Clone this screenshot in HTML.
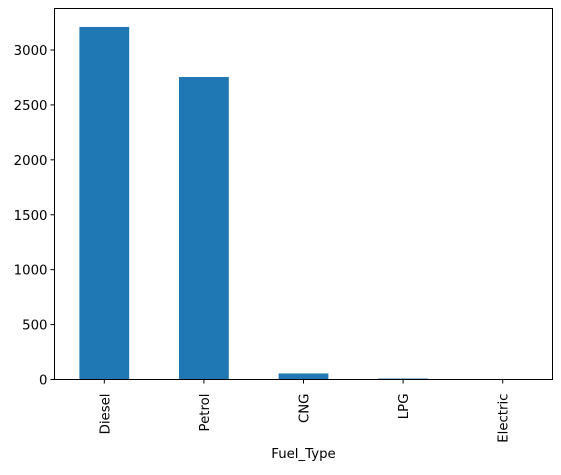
<!DOCTYPE html>
<html><head><meta charset="utf-8"><style>
body{margin:0;background:#fff}
text{font-family:"DejaVu Sans","Liberation Sans",sans-serif;font-size:13.3px;fill:#000}
</style></head><body>
<svg id="chart" width="561" height="470" xmlns="http://www.w3.org/2000/svg"></svg>
<script>
const categories = ["Diesel","Petrol","CNG","LPG","Electric"];
const counts = [3210, 2754, 55, 9, 2];
const yTicks = [0,500,1000,1500,2000,2500,3000];
const xLabelText = "Fuel_Type";

const L=54.5,R=552.5,T=8.5,B=379.5;
const svg=document.getElementById('chart');
const NS='http://www.w3.org/2000/svg';
const step=(R-L)/categories.length;
function xs(i){return L+step*(i+0.5);}
function ys(v){return B-v*(B-50)/3000;}
function mk(tag,attrs){const e=document.createElementNS(NS,tag);for(const k in attrs)e.setAttribute(k,attrs[k]);svg.appendChild(e);return e;}

categories.forEach((c,i)=>{
  const b=mk('rect',{x:xs(i)-step/4,y:ys(counts[i]),width:step/2,height:B-ys(counts[i]),fill:'#1f77b4'});
  
  
  const t=mk('line',{x1:xs(i),x2:xs(i),y1:B,y2:B+4,stroke:'#000','stroke-width':1});
  
  
  const lb=mk('text',{x:0,y:0,'text-anchor':'end',transform:`translate(${xs(i)+5},${B+14}) rotate(-90)`});
  lb.textContent=c;
  
  
});
yTicks.forEach(v=>{
  const t=mk('line',{x1:L-4,x2:L,y1:ys(v),y2:ys(v),stroke:'#000','stroke-width':1});
  
  
  const lb=mk('text',{x:L-7,y:ys(v)+5,'text-anchor':'end'});
  lb.textContent=v;
  
  
});
const fr=mk('rect',{x:L,y:T,width:R-L,height:B-T,fill:'none',stroke:'#000','stroke-width':1});


const xl=mk('text',{x:(L+R)/2,y:458,'text-anchor':'middle'});
xl.textContent=xLabelText;


</script>
</body></html>
